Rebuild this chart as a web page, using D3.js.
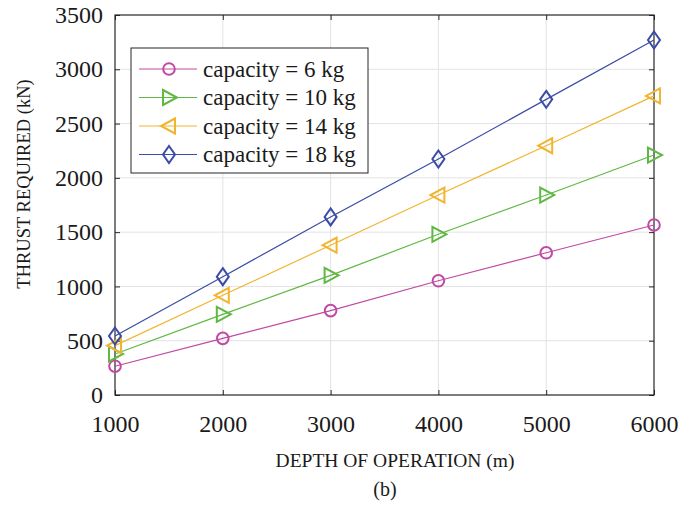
<!DOCTYPE html>
<html><head><meta charset="utf-8">
<script src="https://cdn.jsdelivr.net/npm/d3@7"></script>
<style>body{margin:0;background:#fff} svg text{font-family:"Liberation Serif","Times New Roman",Times,Tinos,serif !important;}</style></head>
<body><svg id="c" width="694" height="505"></svg>
<script>
const depths = [1000, 2000, 3000, 4000, 5000, 6000];
const cap6  = [265, 522, 777, 1052, 1310, 1566];
const cap10 = [378, 743, 1102, 1480, 1842, 2210];
const cap14 = [455, 918, 1380, 1842, 2296, 2755];
const cap18 = [543, 1090, 1640, 2174, 2723, 3270];
const seriesNames = ["capacity = 6 kg", "capacity = 10 kg", "capacity = 14 kg", "capacity = 18 kg"];
const xTicks = [1000, 2000, 3000, 4000, 5000, 6000];
const yTicks = [0, 500, 1000, 1500, 2000, 2500, 3000, 3500];

const colors = ["#c04aa3", "#5fb843", "#f1b42e", "#3b4ca6"];
const markers = ["circle", "triR", "triL", "diamond"];
const seriesData = [cap6, cap10, cap14, cap18];

const svg = d3.select("#c");
const font = "Liberation Serif";
const L = 115, R = 654, T = 15, B = 395;
const x = d3.scaleLinear().domain([1000, 6000]).range([L, R]);
const y = d3.scaleLinear().domain([0, 3500]).range([B, T]);

// grid
svg.append("g").selectAll("line").data(xTicks.slice(1, -1)).join("line")
  .attr("x1", d => x(d)).attr("x2", d => x(d)).attr("y1", T).attr("y2", B)
  .attr("stroke", "#e3e3e3").attr("stroke-width", 1);
svg.append("g").selectAll("line").data(yTicks.slice(1, -1)).join("line")
  .attr("y1", d => y(d)).attr("y2", d => y(d)).attr("x1", L).attr("x2", R)
  .attr("stroke", "#e3e3e3").attr("stroke-width", 1);

// axes
const ax = (g) => g.attr("font-family", font).attr("font-size", 24).attr("color", "#262626");
svg.append("g").attr("transform", `translate(0,${B})`)
  .call(d3.axisBottom(x).tickValues(xTicks).tickFormat(d3.format("d")).tickSizeInner(-5).tickSizeOuter(0).tickPadding(20))
  .call(ax).call(g => g.select(".domain").remove());
svg.append("g").attr("transform", `translate(${L},0)`)
  .call(d3.axisLeft(y).tickValues(yTicks).tickFormat(d3.format("d")).tickSizeInner(-5).tickSizeOuter(0).tickPadding(12))
  .call(ax).call(g => g.select(".domain").remove());
svg.append("g").attr("transform", `translate(0,${T})`)
  .call(d3.axisTop(x).tickValues(xTicks).tickFormat("").tickSizeInner(-5).tickSizeOuter(0))
  .call(ax).call(g => g.select(".domain").remove());
svg.append("g").attr("transform", `translate(${R},0)`)
  .call(d3.axisRight(y).tickValues(yTicks).tickFormat("").tickSizeInner(-5).tickSizeOuter(0))
  .call(ax).call(g => g.select(".domain").remove());
svg.selectAll(".tick line").attr("stroke", "#262626");
svg.selectAll(".tick text").attr("fill", "#1a1a1a");

svg.append("rect").attr("x", L).attr("y", T).attr("width", R - L).attr("height", B - T)
  .attr("fill", "none").attr("stroke", "#262626").attr("stroke-width", 1.2);

function drawMarker(g, type, cx, cy, color) {
  if (type === "circle") {
    g.append("circle").attr("cx", cx).attr("cy", cy).attr("r", 5.8)
      .attr("fill", "none").attr("stroke", color).attr("stroke-width", 2);
  } else {
    let pts;
    if (type === "diamond") pts = [[0,-8.5],[6,0],[0,8.5],[-6,0]];
    else if (type === "triR") pts = [[-6,-7.5],[8,0],[-6,7.5]];
    else pts = [[6,-7.5],[-8,0],[6,7.5]];
    g.append("polygon").attr("points", pts.map(p => [cx + p[0], cy + p[1]].join(",")).join(" "))
      .attr("fill", "none").attr("stroke", color).attr("stroke-width", 2);
  }
}

// series
const line = d3.line().x((d, i) => x(depths[i])).y(d => y(d));
seriesData.forEach((s, k) => {
  const g = svg.append("g");
  g.append("path").attr("d", line(s)).attr("fill", "none").attr("stroke", colors[k]).attr("stroke-width", 1.2);
  s.forEach((v, i) => drawMarker(g, markers[k], x(depths[i]), y(v), colors[k]));
});

// legend
const lg = svg.append("g");
lg.append("rect").attr("x", 131).attr("y", 48).attr("width", 237).attr("height", 125)
  .attr("fill", "#fff").attr("stroke", "#262626").attr("stroke-width", 1);
seriesNames.forEach((n, k) => {
  const cy = 69 + k * 28.5;
  lg.append("line").attr("x1", 139).attr("x2", 197).attr("y1", cy).attr("y2", cy)
    .attr("stroke", colors[k]).attr("stroke-width", 1.2);
  drawMarker(lg, markers[k], 169, cy, colors[k]);
  lg.append("text").attr("x", 203).attr("y", cy + 7.5).attr("font-family", font)
    .attr("font-size", 23).attr("fill", "#1a1a1a").text(n);
});

// labels
svg.append("text").attr("x", 395).attr("y", 467).attr("text-anchor", "middle")
  .attr("font-family", font).attr("font-size", 19.5).attr("fill", "#1a1a1a").text("DEPTH OF OPERATION (m)");
svg.append("text").attr("transform", "translate(30,184) rotate(-90)").attr("text-anchor", "middle")
  .attr("font-family", font).attr("font-size", 18.5).attr("fill", "#1a1a1a").text("THRUST REQUIRED (kN)");
svg.append("text").attr("x", 385).attr("y", 496).attr("text-anchor", "middle")
  .attr("font-family", font).attr("font-size", 20).attr("fill", "#1a1a1a").text("(b)");
</script></body></html>
